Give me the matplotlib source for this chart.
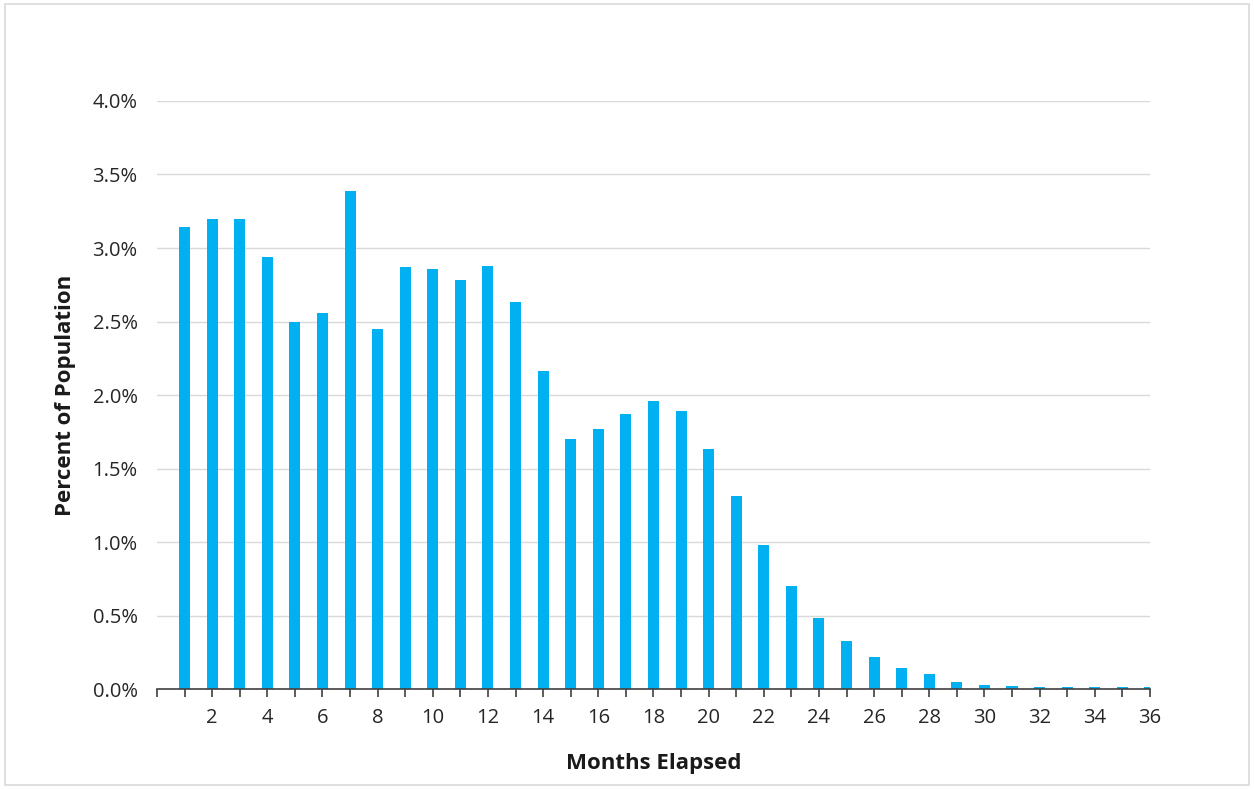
import matplotlib
matplotlib.use("Agg")
import matplotlib.pyplot as plt
from matplotlib.patches import Rectangle
from matplotlib.ticker import FixedLocator, FuncFormatter

months = list(range(1, 37))
pct_population = [
  3.14, 3.20, 3.20, 2.94, 2.50, 2.56, 3.39, 2.45, 2.87, 2.86,
  2.78, 2.88, 2.63, 2.16, 1.70, 1.77, 1.87, 1.96, 1.89, 1.63,
  1.31, 0.98, 0.70, 0.48, 0.33, 0.22, 0.14, 0.10, 0.05, 0.03,
  0.02, 0.015, 0.012, 0.012, 0.012, 0.012,
]
tick_labels = [str(m) if m % 2 == 0 else "" for m in months]

plt.rcParams["font.family"] = ["Open Sans", "DejaVu Sans"]

fig = plt.figure(figsize=(12.54, 7.89), dpi=100)
fig.patches.append(Rectangle((0.004, 0.005), 0.992, 0.99, transform=fig.transFigure,
                             fill=False, edgecolor="#d9d9d9", linewidth=1.2))
ax = fig.add_axes([0.1252, 0.1267, 0.7918, 0.7453])

ax.bar(months, pct_population, width=0.4, color="#00b0f0", zorder=3)

ax.set_xlim(0, 36)
ax.set_ylim(0, 4.0)
ax.set_yticks([i * 0.5 for i in range(9)])
ax.yaxis.set_major_formatter(FuncFormatter(lambda v, _: f"{v:.1f}%"))
ax.xaxis.set_major_locator(FixedLocator([0] + months))
ax.set_xticklabels([""] + tick_labels)

ax.grid(axis="y", color="#d9d9d9", linewidth=1.0, zorder=0)
for side in ("top", "right", "left"):
  ax.spines[side].set_visible(False)
ax.spines["bottom"].set_color("#404040")
ax.spines["bottom"].set_linewidth(1.2)
ax.spines["bottom"].set_zorder(4)
ax.tick_params(axis="x", direction="out", length=6, width=1.2, color="#404040",
               labelsize=14.5, labelcolor="#262626", pad=8)
ax.tick_params(axis="y", length=0, labelsize=14.5, labelcolor="#262626", pad=14)

ax.set_xlabel("Months Elapsed", fontsize=16, fontweight="bold", color="#1a1a1a", labelpad=18)
ax.set_ylabel("Percent of Population", fontsize=16, fontweight="bold", color="#1a1a1a", labelpad=12)

fig.savefig("out.png", dpi=100)
